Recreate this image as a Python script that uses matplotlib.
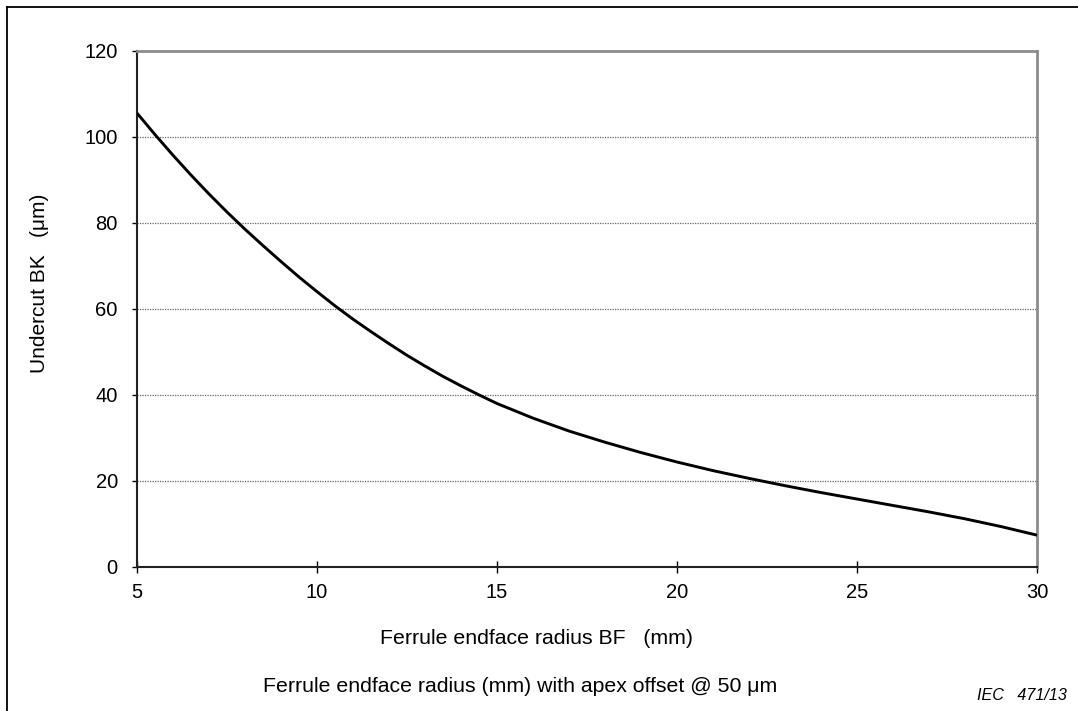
import matplotlib
matplotlib.use("Agg")
import matplotlib.pyplot as plt
from matplotlib.lines import Line2D

# Data
radius_mm = [5.0, 5.5, 6.0, 6.5, 7.0, 7.5, 8.0, 8.5, 9.0, 9.5, 10.0, 10.5,
             11.0, 11.5, 12.0, 12.5, 13.0, 13.5, 14.0, 14.5, 15.0, 16, 17, 18,
             19, 20, 21, 22, 23, 24, 25, 26, 27, 28, 29, 30]
undercut_um = [105.5, 100.5, 95.7, 91.1, 86.7, 82.5, 78.5, 74.7, 71.0, 67.4,
               64.0, 60.7, 57.6, 54.7, 51.9, 49.2, 46.7, 44.3, 42.1, 40.0,
               38.0, 34.6, 31.6, 29.0, 26.6, 24.4, 22.4, 20.6, 18.9, 17.3,
               15.8, 14.3, 12.8, 11.2, 9.4, 7.4]
x_ticks = [5, 10, 15, 20, 25, 30]
y_ticks = [0, 20, 40, 60, 80, 100, 120]

plt.rcParams['font.family'] = ['Liberation Sans', 'DejaVu Sans']

W, H = 1078, 711
fig = plt.figure(figsize=(W / 100, H / 100), dpi=100)
ax = fig.add_axes([137 / W, 1 - 567 / H, (1037 - 137) / W, (567 - 50.7) / H])

ax.plot(radius_mm, undercut_um, color='black', lw=2.1, solid_capstyle='butt',
        solid_joinstyle='round', zorder=3)

ax.set_xlim(5, 30)
ax.set_ylim(0, 120)
ax.set_xticks(x_ticks)
ax.set_yticks(y_ticks)
ax.tick_params(axis='x', direction='inout', length=8.6, width=1.0, color='black',
               labelsize=14.5, pad=7)
ax.tick_params(axis='y', direction='out', length=3.8, width=1.0, color='black',
               labelsize=14.5, pad=10)

for yv in y_ticks[1:-1]:
    ax.axhline(yv, color='#666666', lw=0.9, linestyle=(0, (1, 1)), zorder=1)

ax.spines['left'].set_color('#222222')
ax.spines['left'].set_linewidth(1.5)
ax.spines['bottom'].set_color('#222222')
ax.spines['bottom'].set_linewidth(1.5)
ax.spines['top'].set_color('#8c8c8c')
ax.spines['top'].set_linewidth(2.0)
ax.spines['right'].set_color('#8c8c8c')
ax.spines['right'].set_linewidth(2.0)

fig.text(40 / W, 1 - 283 / H, 'Undercut BK   (\u03bcm)', rotation=90,
         ha='center', va='center', fontsize=15)
fig.text(536 / W, 1 - 638 / H, 'Ferrule endface radius BF   (mm)',
         ha='center', va='center', fontsize=15.3)
fig.text(520 / W, 1 - 687 / H, 'Ferrule endface radius (mm) with apex offset @ 50 \u03bcm',
         ha='center', va='center', fontsize=15.3)
fig.text(1067 / W, 1 - 695 / H, 'IEC   471/13', ha='right', va='center',
         fontsize=11.6, style='italic')

# outer frame (top and left edges)
fig.add_artist(Line2D([7 / W, 1.0], [1 - 7 / H, 1 - 7 / H], color='black', lw=1.3,
                      transform=fig.transFigure))
fig.add_artist(Line2D([7 / W, 7 / W], [0.0, 1 - 7 / H], color='black', lw=1.3,
                      transform=fig.transFigure))

fig.savefig('out.png', dpi=100)
